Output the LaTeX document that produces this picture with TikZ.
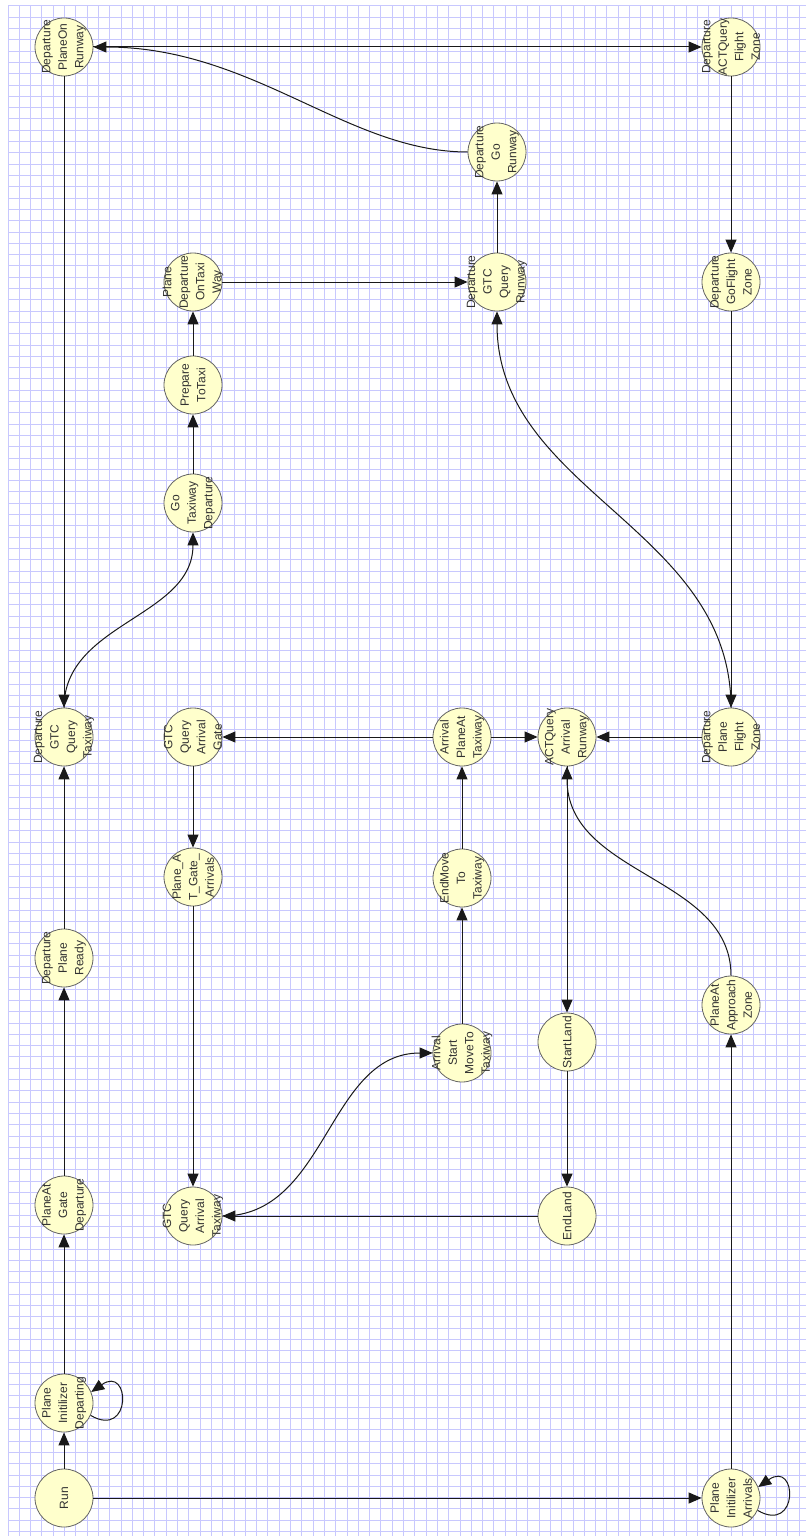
\documentclass[tikz,border=0pt]{standalone}
\usepackage{fontspec}
\setmainfont{Liberation Sans}
\usetikzlibrary{arrows.meta}
\definecolor{gridc}{RGB}{200,200,254}
\definecolor{nodefill}{RGB}{255,255,204}
\definecolor{nodeedge}{RGB}{100,100,100}
\definecolor{txt}{RGB}{50,50,50}
\definecolor{edgec}{RGB}{25,25,25}
\tikzset{
 st/.style={circle, minimum size=58pt, inner sep=0pt, draw=nodeedge, fill=nodefill, line width=0.8pt},
 lab/.style={rotate=90, align=center, text=txt, inner sep=0pt, font=\fontsize{12}{16.5}\selectfont},
 arr/.style={draw=edgec, line width=1pt, -{Triangle[length=13pt,width=11pt]}},
 gl/.style={draw=gridc, line width=1pt}
}
\newcommand\stnode[4]{\node[st] (#1) at (#2,#3) {}; \node[lab] (#1t) at (#1) {#4};}
\begin{document}
\begin{tikzpicture}[x=1pt,y=-1pt]
\fill[white] (0,0) rectangle (806,1536);
\useasboundingbox (0,0) rectangle (806,1536);
% grid
\foreach \i in {0,...,70} \draw[gl] ({8+11.3*\i},6) -- ({8+11.3*\i},1536);
\foreach \j in {0,...,135} \draw[gl] (8,{6+11.3*\j}) -- (806,{6+11.3*\j});
% column 1
\stnode{run}{64}{1498}{Run}
\stnode{pid}{64}{1403}{Plane\\Initilizer\\Departing}
\stnode{pagd}{64}{1205}{PlaneAt\\Gate\\Departure}
\stnode{dpr}{64}{958}{Departure\\Plane\\Ready}
\stnode{dgtcqt}{64}{737}{Departure\\GTC\\Query\\Taxiway}
\stnode{dpor}{64}{47}{Departure\\PlaneOn\\Runway}
% column 2
\stnode{pdotw}{193}{282}{Plane\\Departure\\OnTaxi\\Way}
\stnode{ptt}{193}{385}{Prepare\\ToTaxi}
\stnode{gtd}{193}{503}{Go\\Taxiway\\Departure}
\stnode{gtcqag}{193}{737}{GTC\\Query\\Arrival\\Gate}
\stnode{patga}{193}{877}{Plane\_A\\T\_Gate\_\\Arrivals}
\stnode{gtcqat}{193}{1216}{GTC\\Query\\Arrival\\Taxiway}
% column 3
\stnode{apat}{462}{737}{Arrival\\PlaneAt\\Taxiway}
\stnode{emtt}{462}{878}{EndMove\\To\\Taxiway}
\stnode{asmtt}{462}{1053}{Arrival\\Start\\MoveTo\\Taxiway}
% column 4
\stnode{dgr}{497}{152}{Departure\\Go\\Runway}
\stnode{dgtcqr}{497}{282}{Departure\\GTC\\Query\\Runway}
% column 5
\stnode{aqar}{567}{737}{ACTQuery\\Arrival\\Runway}
\stnode{sl}{567}{1042}{StartLand}
\stnode{el}{567}{1216}{EndLand}
% column 6
\stnode{daqfz}{731}{47}{Departure\\ACTQuery\\Flight\\Zone}
\stnode{dgfz}{731}{282}{Departure\\GoFlight\\Zone}
\stnode{dpfz}{731}{737}{Departure\\Plane\\Flight\\Zone}
\stnode{paaz}{731}{1005}{PlaneAt\\Approach\\Zone}
\stnode{pia}{731}{1498}{Plane\\Initilizer\\Arrivals}
% edges
\draw[arr] (run) -- (pid);
\draw[arr] (run) -- (pia);
\draw[arr] (pid.-25) .. controls +(-30:48pt) and +(35:48pt) .. (pid.22);
\draw[arr] (pia.-25) .. controls +(-30:48pt) and +(35:48pt) .. (pia.22);
\draw[arr] (pid) -- (pagd);
\draw[arr] (pagd) -- (dpr);
\draw[arr] (dpr) -- (dgtcqt);
\draw[arr] (dpor) -- (dgtcqt);
\draw[arr] (dgtcqt.north) .. controls +(0,-85) and +(0,85) .. (gtd.south);
\draw[arr] (gtd) -- (ptt);
\draw[arr] (ptt) -- (pdotw);
\draw[arr] (pdotw) -- (dgtcqr);
\draw[arr] (dgtcqr) -- (dgr);
\draw[arr] (dgr.west) .. controls +(-120,0) and +(160,0) .. (dpor.east);
\draw[arr] (dpor) -- (daqfz);
\draw[arr] (daqfz) -- (dgfz);
\draw[arr] (dgfz) -- (dpfz);
\draw[arr] (dpfz.north) .. controls +(0,-180) and +(0,180) .. (dgtcqr.south);
\draw[arr] (dpfz) -- (aqar);
\draw[arr] (apat) -- (aqar);
\draw[arr] (apat) -- (gtcqag);
\draw[arr] (gtcqag) -- (patga);
\draw[arr] (patga) -- (gtcqat);
\draw[arr] (gtcqat.east) .. controls +(105,0) and +(-105,0) .. (asmtt.west);
\draw[arr] (el) -- (gtcqat);
\draw[arr] (asmtt) -- (emtt);
\draw[arr] (emtt) -- (apat);
\draw[arr] (aqar) -- (sl);
\draw[arr] (sl) -- (el);
\draw[arr] (pia) -- (paaz);
\draw[arr] (paaz.north) .. controls +(0,-100) and +(0,110) .. (aqar.south);
\end{tikzpicture}
\end{document}
